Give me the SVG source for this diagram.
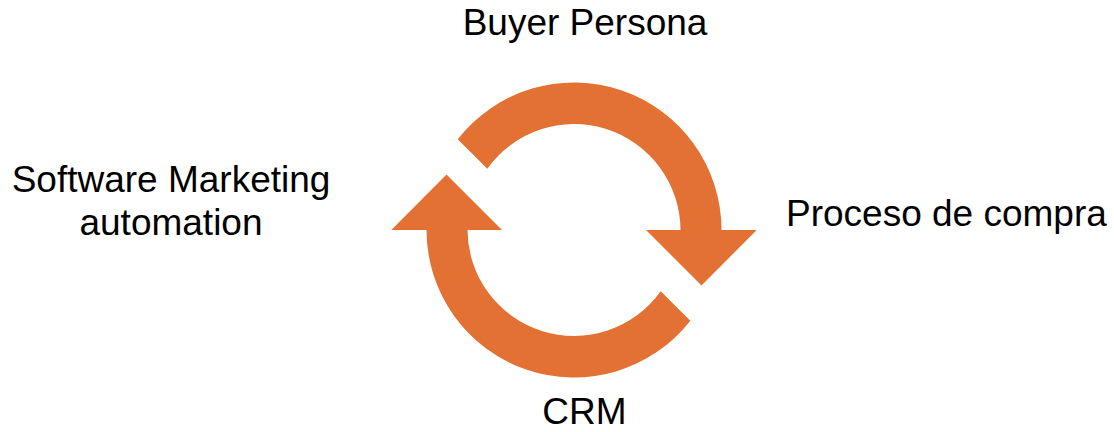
<svg xmlns="http://www.w3.org/2000/svg" width="1114" height="432" viewBox="0 0 1114 432">
<style>
.lbl{font-family:"Liberation Sans",Arial,sans-serif;font-size:37px;fill:#000}
.arc{fill:#E37133}
</style>
<rect width="1114" height="432" fill="#fff"/>
<g id="connectors">
<path id="arrow-top" class="arc" d="M457.7 139.3 A147.5 147.5 0 0 1 721.5 230 L756.7 230 L701.5 285.5 L646 230 L680.5 230 A106.5 106.5 0 0 0 487.3 168.7 Z"/>
<path id="arrow-bottom" class="arc" transform="rotate(180 574 230)" d="M457.7 139.3 A147.5 147.5 0 0 1 721.5 230 L756.7 230 L701.5 285.5 L646 230 L680.5 230 A106.5 106.5 0 0 0 487.3 168.7 Z"/>
</g>
<g id="buyer-persona"><text class="lbl" x="585" y="35" text-anchor="middle">Buyer Persona</text></g>
<g id="proceso-compra"><text class="lbl" x="786" y="226">Proceso de compra</text></g>
<g id="software-marketing"><text class="lbl" x="171" y="191.5" text-anchor="middle">Software Marketing</text><text class="lbl" x="171" y="235" text-anchor="middle">automation</text></g>
<g id="crm"><text class="lbl" x="584.5" y="424" text-anchor="middle">CRM</text></g>
</svg>
